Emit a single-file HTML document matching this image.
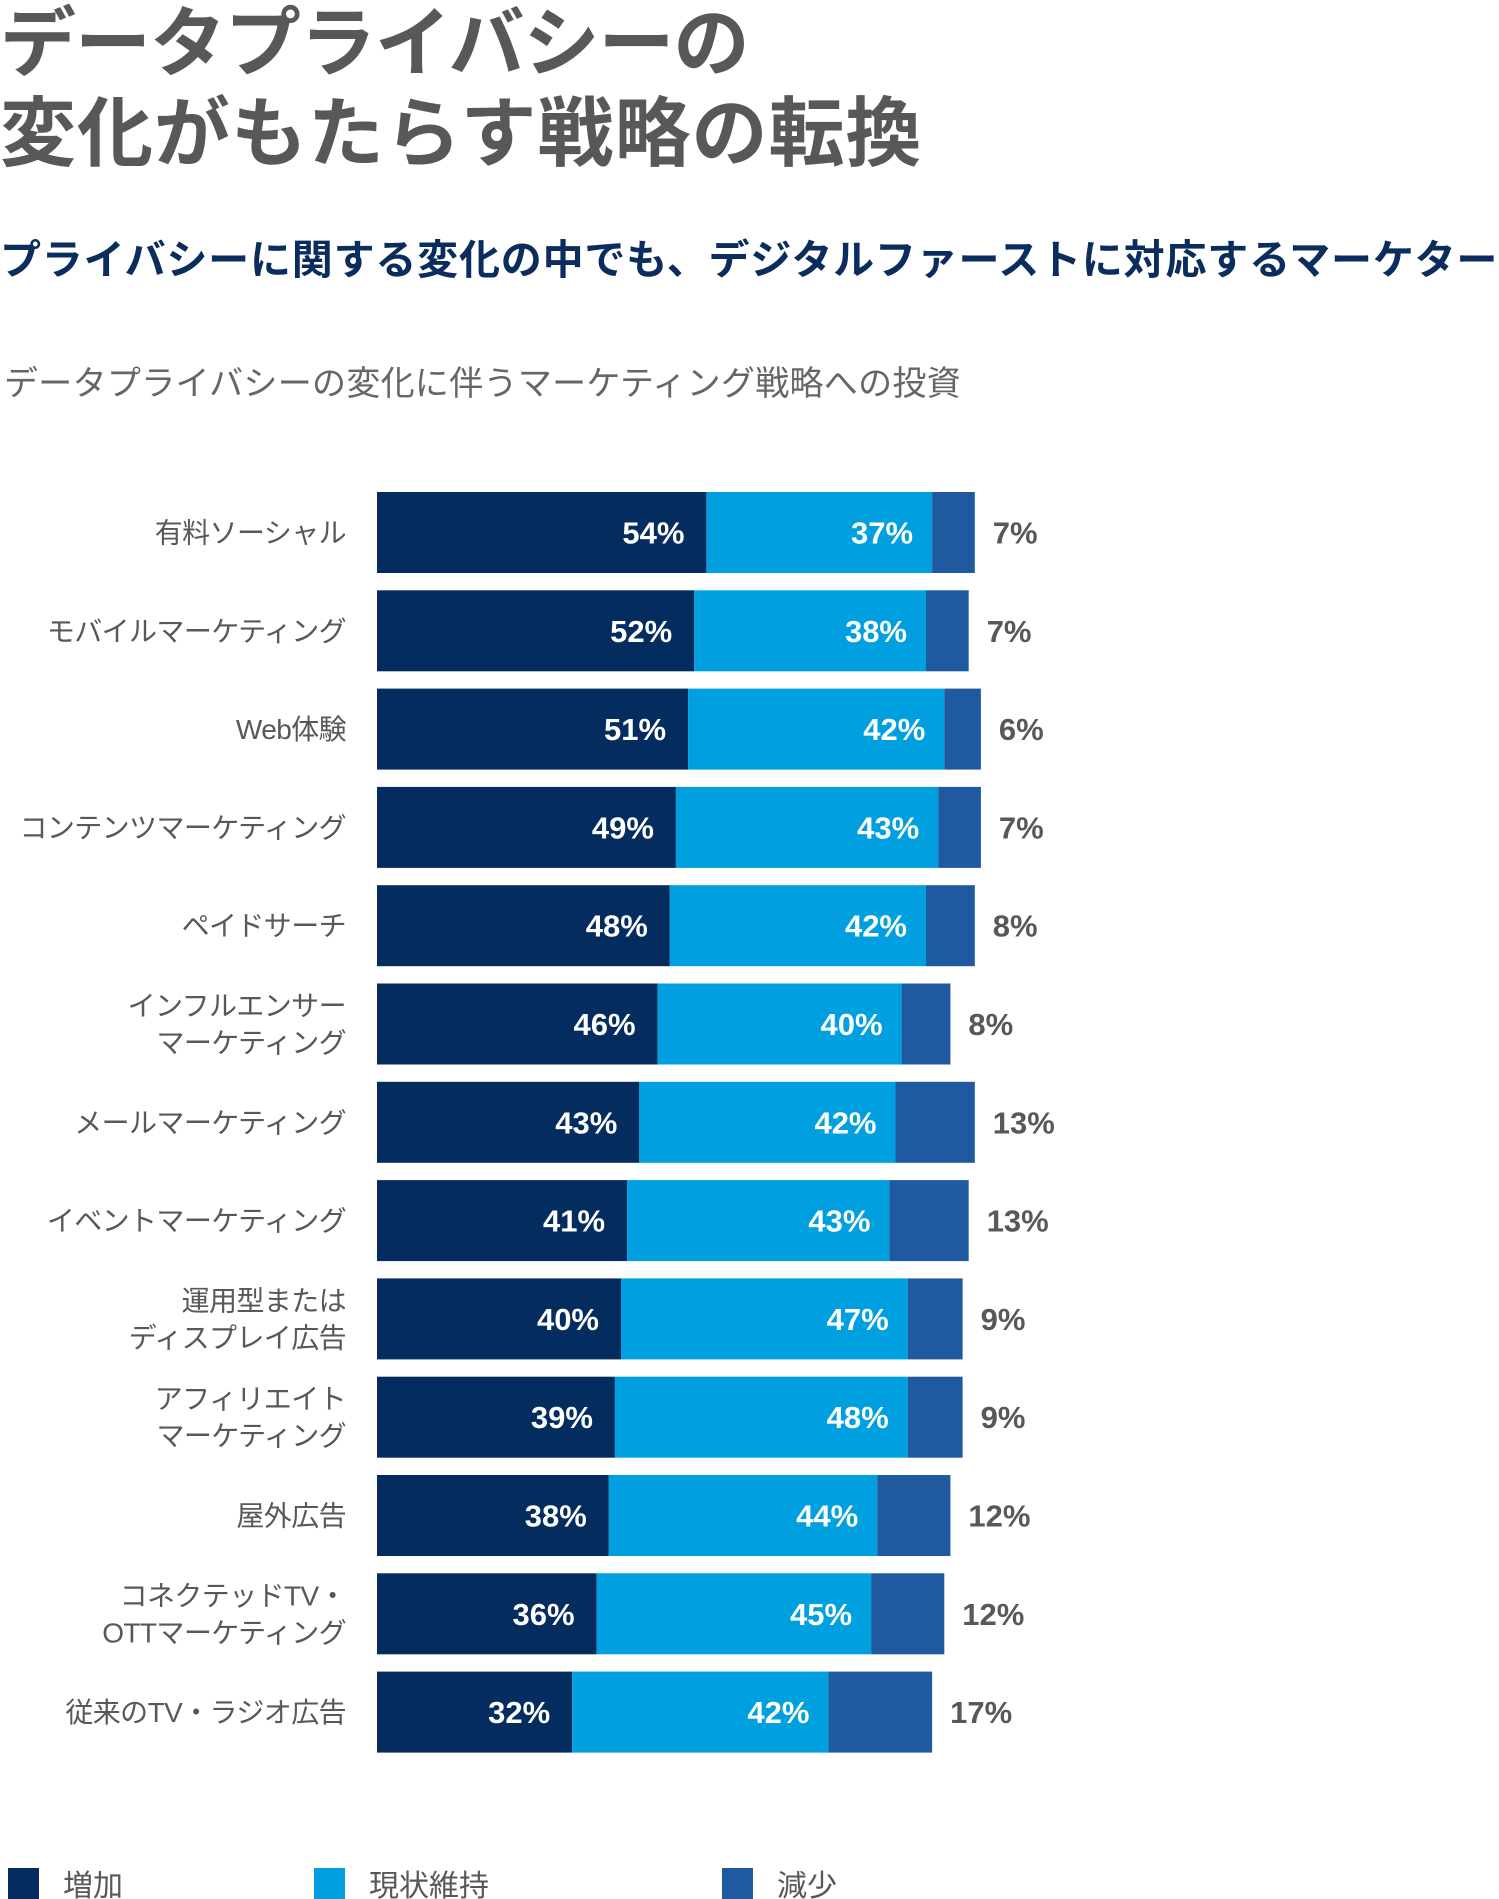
<!DOCTYPE html>
<html><head><meta charset="utf-8"><style>
body{margin:0;width:1499px;height:1899px;background:#fff;overflow:hidden;font-family:"Liberation Sans","Noto Sans CJK JP",sans-serif;}
.t{position:absolute;left:0;white-space:nowrap;}
</style></head><body>
<div class="t" style="top:0;font-size:76px;line-height:90px;font-weight:bold;color:#58585b;"><span style="letter-spacing:-1px">データプライバシーの</span><br><span style="letter-spacing:1px">変化がもたらす戦略の転換</span></div>
<div class="t" style="top:234px;font-size:41px;line-height:52px;font-weight:bold;color:#0a2d5e;letter-spacing:0.8px;">プライバシーに関する変化の中でも、デジタルファーストに対応するマーケター</div>
<div class="t" style="top:362px;left:4px;font-size:34px;line-height:44px;color:#666;letter-spacing:0.3px;">データプライバシーの変化に伴うマーケティング戦略への投資</div>
<svg id="chart" width="1499" height="1899" style="position:absolute;left:0;top:0"></svg>
<script>
const categories=[["有料ソーシャル"],["モバイルマーケティング"],["Web体験"],["コンテンツマーケティング"],["ペイドサーチ"],["インフルエンサー","マーケティング"],["メールマーケティング"],["イベントマーケティング"],["運用型または","ディスプレイ広告"],["アフィリエイト","マーケティング"],["屋外広告"],["コネクテッドTV・","OTTマーケティング"],["従来のTV・ラジオ広告"]];
const increase=[54,52,51,49,48,46,43,41,40,39,38,36,32];
const maintain=[37,38,42,43,42,40,42,43,47,48,44,45,42];
const decrease=[7,7,6,7,8,8,13,13,9,9,12,12,17];
const seriesNames=["増加","現状維持","減少"];
const colors=["#052c5e","#00a0e0","#1f5aa0"];
const svg=document.getElementById('chart');
const NS="http://www.w3.org/2000/svg";
const x0=377,pxPer=6.1,top0=492,pitch=98.3,bh=81;
const xs=v=>x0+v*pxPer;
const ys=i=>top0+i*pitch;
function mk(tag,attrs,txt){const e=document.createElementNS(NS,tag);for(const k in attrs)e.setAttribute(k,attrs[k]);if(txt!=null)e.textContent=txt;svg.appendChild(e);return e;}
const series=[increase,maintain,decrease];
categories.forEach((lab,i)=>{
  const y=ys(i),cy=y+bh/2;
  let acc=0;
  series.forEach((s,j)=>{
    const r=mk('rect',{x:xs(acc),y:y,width:s[i]*pxPer,height:bh,fill:colors[j]});
    
    
    acc+=s[i];
    let t;
    if(j<2){t=mk('text',{x:xs(acc)-(j==0?22:19),y:cy+11,'text-anchor':'end','font-size':31,'font-weight':'bold',fill:'#fff'},s[i]+'%');}
    else{t=mk('text',{x:xs(acc)+18,y:cy+11,'font-size':31,'font-weight':'bold',fill:'#58585b'},s[i]+'%');}
    
    
  });
  const n=lab.length;
  lab.forEach((ln,k)=>{
    const t=mk('text',{x:346,y:cy+10+(k-(n-1)/2)*37,'text-anchor':'end','font-size':28,'letter-spacing':-0.6,fill:'#58585b'},ln);
    
    
  });
});
const legX=[8,314,722];
seriesNames.forEach((nm,j)=>{
  const r=mk('rect',{x:legX[j],y:1868,width:31,height:31,fill:colors[j]});
  
  
  const t=mk('text',{x:legX[j]+55,y:1896,'font-size':30,fill:'#58585b'},nm);
  
  
});
</script>
</body></html>
